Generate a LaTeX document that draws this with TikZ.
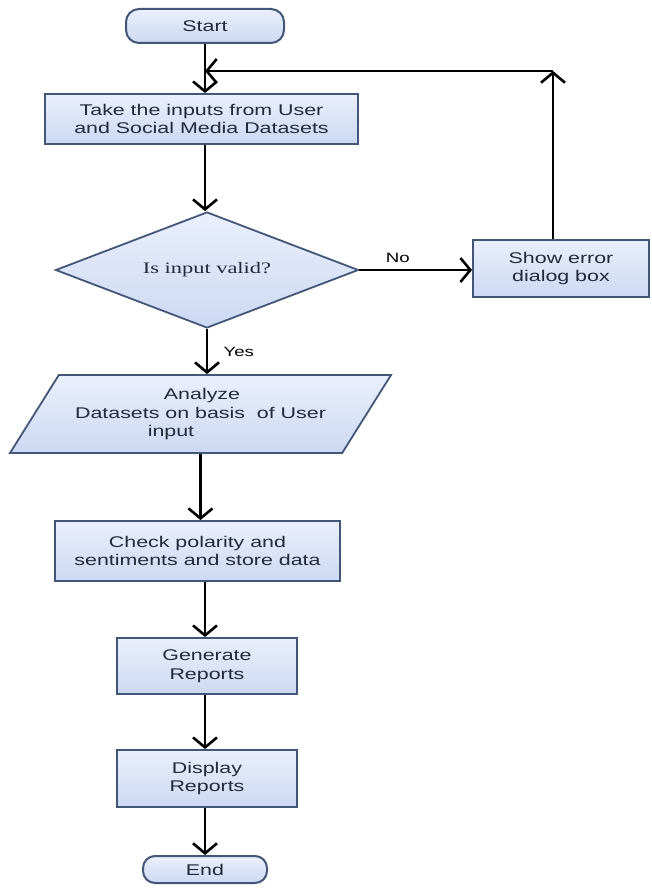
\documentclass[tikz,border=0pt]{standalone}
\usepackage{fontspec}
\setmainfont{Liberation Sans}[FakeStretch=1.38]
\newfontfamily\decfont{Liberation Serif}[FakeStretch=1.4]
\usetikzlibrary{shapes.geometric,arrows.meta}
\definecolor{boxtop}{RGB}{234,239,252}
\definecolor{boxbot}{RGB}{204,217,243}
\definecolor{boxline}{RGB}{68,86,120}
\definecolor{boxtext}{RGB}{34,42,60}

\begin{document}
\begin{tikzpicture}[x=1pt, y=-1pt,
	every node/.style = {font=\fontsize{15.5}{18.5}\selectfont, text=boxtext},
	block/.style = {draw=boxline, line width=1.8pt, top color=boxtop, bottom color=boxbot, align=center, inner sep=0pt},
	term/.style = {block, rounded corners=13pt, line width=2pt},
	decision/.style = {block, diamond, aspect=2.6},
	io/.style = {block, trapezium, trapezium left angle=46.5, trapezium right angle=133.5, trapezium stretches body},
	arr/.style = {line width=2.6pt, -{Straight Barb[length=10pt,width=24pt]}},
	lbl/.style = {font=\fontsize{13.5}{15}\selectfont, text=black}]
\useasboundingbox (0,0) rectangle (651,888);

\node[term, minimum width=158pt, minimum height=34pt] (start) at (205,26) {Start};
\node[block, minimum width=313pt, minimum height=50pt] (inp) at (201.5,119) {Take the inputs from User\\and Social Media Datasets};
\node[decision, minimum width=303pt, minimum height=116pt] (valid) at (207,270) {\decfont\fontsize{16}{18}\selectfont Is input valid?};
\node[block, minimum width=176pt, minimum height=57pt] (err) at (561,268.5) {Show error\\dialog box};
\node[io, minimum width=381pt, minimum height=78pt] (analyze) at (200.5,414)
	{\hspace*{3pt}Analyze\\Datasets on basis\ \ of User\hspace*{28pt}\\input\hspace*{59pt}};
\node[block, minimum width=285pt, minimum height=60pt] (check) at (197.5,551) {Check polarity and\\sentiments and store data};
\node[block, minimum width=180pt, minimum height=56pt] (gen) at (207,666) {Generate\\Reports};
\node[block, minimum width=180pt, minimum height=57pt] (disp) at (207,778.5) {Display\\Reports};
\node[term, rounded corners=12pt, minimum width=124pt, minimum height=27pt] (end) at (205,869.5) {End};

\coordinate (merge) at (205,71);
\coordinate (corner) at (553,71);

\draw[arr] (start.south) -- (start.south |- inp.north);
\draw[arr] (err.north -| corner) -- (corner);
\draw[arr] (corner) -- (merge);
\draw[arr] (inp.south -| start) -- (valid.north -| start);
\draw[arr] (valid.east) -- (err.west |- valid.east) node[lbl, pos=0.34, above=3pt] {No};
\draw[arr] (valid.south) -- (valid.south |- analyze.north) node[lbl, midway, right=12pt] {Yes};
\draw[arr] (analyze.center |- analyze.south) -- (analyze.center |- check.north);
\draw[arr] (check.south -| start) -- (gen.north -| start);
\draw[arr] (gen.south -| start) -- (disp.north -| start);
\draw[arr] (disp.south -| start) -- (end.north);
\end{tikzpicture}
\end{document}
